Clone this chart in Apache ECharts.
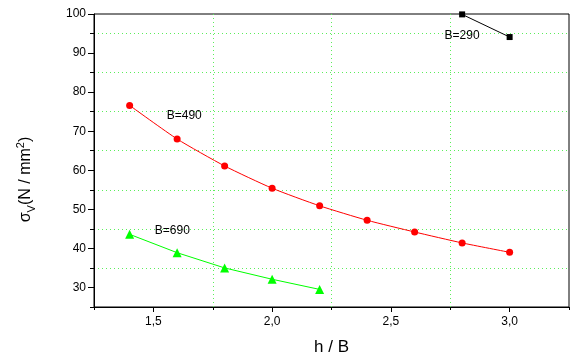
<!DOCTYPE html>
<html>
<head>
<meta charset="utf-8">
<script src="https://cdn.jsdelivr.net/npm/echarts@6/dist/echarts.min.js"></script>
<style>html,body{margin:0;padding:0;background:#fff}#c{width:571px;height:363px}</style>
</head>
<body>
<div id="c"></div>
<script>
// Data
const xB490 = [1.4, 1.6, 1.8, 2.0, 2.2, 2.4, 2.6, 2.8, 3.0];
const yB490 = [76.6, 68.0, 61.1, 55.4, 50.9, 47.2, 44.2, 41.4, 39.0];
const xB690 = [1.4, 1.6, 1.8, 2.0, 2.2];
const yB690 = [43.6, 38.9, 35.0, 32.1, 29.5];
const xB290 = [2.8, 3.0];
const yB290 = [99.9, 94.1];
const seriesNames = ['B=290', 'B=490', 'B=690'];
const labelX = [2.80, 1.63, 1.58];
const labelY = [94.4, 74.0, 44.5];

const pairs = (xs, ys) => xs.map((x, i) => [x, ys[i]]);
const fmtX = v => v.toFixed(1).replace('.', ',');
const font = 'Liberation Sans, Arial, sans-serif';
const gridColor = '#5bee5b';

function labelMark(i) {
  return {
    symbol: 'circle', symbolSize: 0, silent: true,
    data: [{ coord: [labelX[i], labelY[i]], value: seriesNames[i] }],
    label: { show: true, position: 'inside', formatter: seriesNames[i], color: '#000', fontSize: 12, fontFamily: font }
  };
}

const chart = echarts.init(document.getElementById('c'), null, { renderer: 'canvas' });
chart.setOption({
  animation: false,
  backgroundColor: '#fff',
  grid: { left: 94, right: 2, top: 14, bottom: 56, show: true, borderColor: '#000', borderWidth: 1, backgroundColor: 'transparent' },
  xAxis: [
    {
      type: 'value', min: 1.25, max: 3.25, splitNumber: 4,
      name: 'h / B', nameLocation: 'middle', nameGap: 32,
      nameTextStyle: { fontSize: 17, fontFamily: font, color: '#000' },
      axisLine: { show: true, lineStyle: { color: '#000', width: 1 } },
      axisTick: { show: true, inside: false, length: 5, lineStyle: { color: '#000' } },
      axisLabel: { formatter: fmtX, showMinLabel: false, showMaxLabel: false, fontSize: 12, fontFamily: font, color: '#000', margin: 9 },
      splitLine: { show: false }
    },
    {
      type: 'value', min: 1.25, max: 3.25, interval: 0.5, position: 'bottom',
      axisLine: { show: false },
      axisTick: { show: true, inside: false, length: 3, lineStyle: { color: '#000' } },
      axisLabel: { show: false },
      splitLine: { show: true, showMinLine: false, showMaxLine: false, lineStyle: { color: gridColor, type: [1, 3], width: 1 } }
    }
  ],
  yAxis: [
    {
      type: 'value', min: 25, max: 100, splitNumber: 8,
      name: 'σ{sub|V}(N / mm{sup|2})', nameLocation: 'middle', nameGap: 57, nameRotate: 90,
      nameTextStyle: {
        fontSize: 16, fontFamily: font, color: '#000', lineHeight: 22, padding: [0, 38, 0, 0],
        rich: {
          sub: { fontSize: 11, fontFamily: font, color: '#000', verticalAlign: 'bottom', lineHeight: 22 },
          sup: { fontSize: 11, fontFamily: font, color: '#000', verticalAlign: 'top', lineHeight: 22 }
        }
      },
      axisLine: { show: true, lineStyle: { color: '#000', width: 1 } },
      axisTick: { show: true, inside: false, length: 6, lineStyle: { color: '#000' } },
      axisLabel: { showMinLabel: false, fontSize: 12, fontFamily: font, color: '#000', margin: 8 },
      splitLine: { show: false }
    },
    {
      type: 'value', min: 25, max: 100, interval: 10, position: 'left',
      axisLine: { show: false },
      axisTick: { show: true, inside: false, length: 4, lineStyle: { color: '#000' } },
      axisLabel: { show: false },
      splitLine: { show: true, showMinLine: false, showMaxLine: false, lineStyle: { color: gridColor, type: [1, 3], width: 1 } }
    }
  ],
  series: [
    {
      name: seriesNames[0], type: 'line', data: pairs(xB290, yB290),
      symbol: 'rect', symbolSize: 6, color: '#000',
      lineStyle: { color: '#000', width: 1 }, itemStyle: { color: '#000' },
      markPoint: labelMark(0)
    },
    {
      name: seriesNames[1], type: 'line', data: pairs(xB490, yB490), smooth: 0.2,
      symbol: 'circle', symbolSize: 7, color: '#ff0000',
      lineStyle: { color: '#ff0000', width: 1 }, itemStyle: { color: '#ff0000' },
      markPoint: labelMark(1)
    },
    {
      name: seriesNames[2], type: 'line', data: pairs(xB690, yB690),
      symbol: 'triangle', symbolSize: 9, color: '#00ff00',
      lineStyle: { color: '#00ff00', width: 1 }, itemStyle: { color: '#00ff00' },
      markPoint: labelMark(2)
    }
  ]
});
</script>
</body>
</html>
